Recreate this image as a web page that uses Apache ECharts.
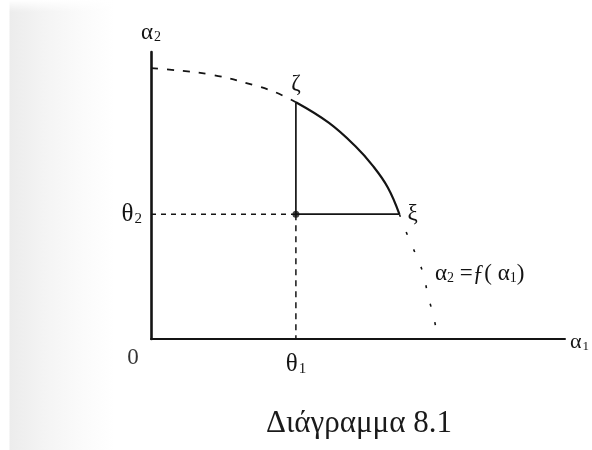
<!DOCTYPE html>
<html>
<head>
<meta charset="utf-8">
<script src="https://cdn.jsdelivr.net/npm/echarts@6/dist/echarts.min.js"></script>
<style>
  html, body { margin: 0; padding: 0; }
  body {
    width: 592px; height: 450px;
    background:
      linear-gradient(to bottom, #ffffff 0px, rgba(255,255,255,0) 12px),
      linear-gradient(to right, #ffffff 0px, #ffffff 9px, #ececec 10px, #f4f4f4 45px, #fbfbfb 85px, #ffffff 115px);
  }
  #chart { width: 592px; height: 450px; }
</style>
</head>
<body>
<div id="chart"></div>
<script>
// Production frontier a2 = f(a1), split into three pieces:
// dashed upper-left part, solid arc between ζ and ξ, dashed lower-right part.
const frontierLeft  = [[0, 94.4], [5, 93.8], [15, 92.0], [25, 88.4], [30, 86.0], [35, 82.5]];
const frontierArc   = [[35, 82.5], [43, 75.3], [49.5, 67.0], [53.5, 60.5], [57.2, 52.8], [60, 43.5]];
const frontierRight = [[60, 43.5], [62, 36.0], [64, 29.3], [65.7, 23.0], [67, 14.6], [68.3, 7.7], [69, 2.0]];

// Point θ = (θ1, θ2) inside the frontier
const theta1 = 35;
const theta2 = 43.5;
const zeta = [35, 82.5];
const xi = [60, 43.5];

// Text
const axisNameX = 'α';
const axisNameY = 'α';
const tickLabelX = 'θ';
const tickLabelY = 'θ';
const originLabel = '0';
const curveLabel = '{a|α}{s|2}{a| =ƒ( α}{s|1}{a|)}';
const caption = 'Διάγραμμα 8.1';

const ink = '#141414';
const serif = '"Liberation Serif", "DejaVu Serif", serif';

const chart = echarts.init(document.getElementById('chart'), null, { renderer: 'canvas' });

const subRich = (big, small, drop) => ({
  t: { fontFamily: serif, fontSize: big, color: ink },
  s: { fontFamily: serif, fontSize: small, color: ink, verticalAlign: 'bottom', padding: [drop, 0, 0, 1] }
});

chart.setOption({
  animation: false,
  backgroundColor: 'transparent',
  title: {
    text: caption,
    left: 261,
    top: 403,
    textStyle: { fontFamily: serif, fontSize: 31, fontWeight: 'normal', color: '#1a1a1a' }
  },
  grid: { left: 151, right: 24, top: 52, bottom: 111 },
  xAxis: {
    type: 'value', min: 0, max: 100,
    name: '{t|' + axisNameX + '}{s|1}', nameLocation: 'end', nameGap: 5,
    nameTextStyle: { rich: subRich(22, 13, 9), padding: [6, 0, 0, 0] },
    axisLine: { lineStyle: { color: ink, width: 2 } },
    axisTick: { show: false },
    splitLine: { show: false },
    axisLabel: {
      customValues: [theta1],
      margin: 13,
      formatter: () => '{t|' + tickLabelX + '}{s|1}',
      rich: subRich(25, 15, 9)
    }
  },
  yAxis: {
    type: 'value', min: 0, max: 100,
    name: '{t|' + axisNameY + '}{s|2}', nameLocation: 'end', nameGap: 8,
    nameTextStyle: { rich: subRich(23, 14, 9), align: 'center' },
    axisLine: { lineStyle: { color: ink, width: 2.6 } },
    axisTick: { show: false },
    splitLine: { show: false },
    axisLabel: {
      customValues: [theta2],
      margin: 9,
      formatter: () => '{t|' + tickLabelY + '}{s|2}',
      rich: subRich(25, 15, 10)
    }
  },
  series: [
    {
      type: 'line', data: frontierLeft, smooth: 0.4, symbol: 'none',
      lineStyle: { color: ink, width: 1.8, type: [7, 9] }
    },
    {
      type: 'line', smooth: 0.4, symbol: 'circle', symbolSize: 0,
      data: frontierArc.map((p, i) => {
        if (i === 0) return { value: p, label: { show: true, position: 'top', distance: 7, formatter: 'ζ' } };
        if (i === frontierArc.length - 1) return { value: p, label: { show: true, position: 'right', distance: 8, formatter: 'ξ' } };
        return p;
      }),
      label: { fontFamily: serif, fontSize: 23, color: ink },
      lineStyle: { color: ink, width: 2.2 }
    },
    {
      type: 'line', smooth: 0.4, symbol: 'circle', symbolSize: 0,
      data: frontierRight.map((p, i) => i === 3
        ? { value: p, label: { show: true, position: 'right', distance: 12, offset: [0, 1], formatter: curveLabel } }
        : p),
      label: {
        rich: {
          a: { fontFamily: serif, fontSize: 23, color: ink },
          s: { fontFamily: serif, fontSize: 14, color: ink, verticalAlign: 'bottom', padding: [8, 0, 0, 0] }
        }
      },
      lineStyle: { color: ink, width: 1.6, type: [3, 16] }
    },
    // solid legs of the triangle from θ to ζ and to ξ
    {
      type: 'line', symbol: 'none',
      data: [zeta, [theta1, theta2], xi],
      lineStyle: { color: ink, width: 1.7 }
    },
    // dashed guides to the axes
    {
      type: 'line', symbol: 'none',
      data: [[0, theta2], [theta1, theta2]],
      lineStyle: { color: ink, width: 1.5, type: [5, 5] }
    },
    {
      type: 'line', symbol: 'none',
      data: [[theta1, theta2], [theta1, 0]],
      lineStyle: { color: ink, width: 1.5, type: [6, 5] }
    },
    {
      type: 'scatter', symbol: 'circle', symbolSize: 7,
      itemStyle: { color: ink },
      data: [[theta1, theta2]]
    },
    // origin label
    {
      type: 'scatter', symbol: 'circle', symbolSize: 2, silent: true,
      itemStyle: { color: 'rgba(0,0,0,0)' },
      data: [[0, 0]],
      label: {
        show: true, position: 'bottom', distance: 6, offset: [-18, 0], formatter: originLabel,
        fontFamily: serif, fontSize: 23, color: '#000'
      }
    }
  ]
});
</script>
</body>
</html>
